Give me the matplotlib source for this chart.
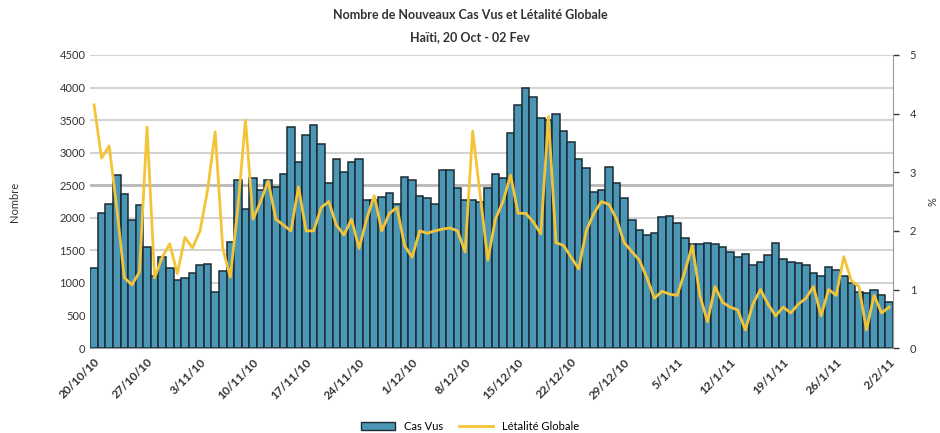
import matplotlib
matplotlib.use("Agg")
import matplotlib.pyplot as plt
import numpy as np
from matplotlib.patches import Patch
from matplotlib.lines import Line2D

plt.rcParams['font.family'] = ['Lato', 'DejaVu Sans']

# new cases seen per day, 20/10/10 -> 2/2/11
cas_vus = [1230, 2070, 2210, 2660, 2370, 1970, 2190, 1560, 1100, 1400,
           1230, 1050, 1080, 1150, 1270, 1290, 860, 1190, 1630, 2580,
           2140, 2610, 2420, 2580, 2480, 2680, 3400, 2850, 3270, 3430,
           3140, 2530, 2910, 2700, 2850, 2910, 2270, 2270, 2320, 2380,
           2220, 2630, 2580, 2330, 2300, 2220, 2730, 2730, 2460, 2270,
           2270, 2250, 2460, 2680, 2610, 3310, 3730, 4000, 3850, 3540,
           3500, 3600, 3340, 3160, 2910, 2760, 2390, 2420, 2780, 2530,
           2300, 1960, 1810, 1730, 1760, 2010, 2030, 1920, 1690, 1600,
           1600, 1620, 1600, 1550, 1480, 1400, 1450, 1270, 1320, 1430,
           1610, 1370, 1320, 1300, 1270, 1150, 1100, 1250, 1200, 1100,
           1000, 860, 840, 900, 810, 710]

# overall case fatality rate (%)
letalite = [4.15, 3.24, 3.45, 2.4, 1.2, 1.08, 1.3, 3.77, 1.2, 1.55,
            1.78, 1.27, 1.89, 1.71, 2.0, 2.7, 3.69, 1.7, 1.21, 2.41,
            3.89, 2.2, 2.5, 2.85, 2.2, 2.1, 2.0, 2.75, 2.0, 2.0,
            2.4, 2.5, 2.1, 1.93, 2.2, 1.7, 2.2, 2.6, 2.0, 2.3,
            2.4, 1.75, 1.55, 2.0, 1.96, 2.0, 2.03, 2.05, 2.0, 1.64,
            3.7, 2.6, 1.5, 2.2, 2.5, 2.95, 2.3, 2.3, 2.15, 1.95,
            3.95, 1.8, 1.75, 1.55, 1.35, 2.0, 2.3, 2.5, 2.45, 2.2,
            1.8, 1.65, 1.5, 1.2, 0.85, 0.97, 0.92, 0.9, 1.3, 1.75,
            0.9, 0.45, 1.05, 0.78, 0.7, 0.65, 0.31, 0.75, 1.0, 0.75,
            0.55, 0.7, 0.6, 0.75, 0.85, 1.05, 0.55, 1.0, 0.9, 1.56,
            1.15, 1.05, 0.31, 0.9, 0.6, 0.7]

tick_labels = ['20/10/10', '27/10/10', '3/11/10', '10/11/10', '17/11/10',
               '24/11/10', '1/12/10', '8/12/10', '15/12/10', '22/12/10',
               '29/12/10', '5/1/11', '12/1/11', '19/1/11', '26/1/11', '2/2/11']

x = np.arange(len(cas_vus))

fig = plt.figure(figsize=(9.4, 4.33), dpi=100)
ax = fig.add_axes([0.096, 0.196, 0.854, 0.677])
ax2 = ax.twinx()

# grid
for v in range(500, 5000, 500):
    ax.axhline(v, color='#b8b8b8' if v == 2500 else '#d3d3d3',
               lw=2.0 if v == 2500 else 1.5, zorder=0)

ax.bar(x, cas_vus, width=1.0, color='#4b96b5', edgecolor='#1b2a33',
       linewidth=1.1, zorder=2)
ax2.plot(x, letalite, color='#f4c438', lw=2.0, zorder=3)

ax.set_xlim(-0.5, len(cas_vus) - 0.5)
ax.set_ylim(0, 4500)
ax.set_yticks(range(0, 4501, 500))
ax2.set_ylim(0, 5)
ax2.set_yticks(range(0, 6))

ax.set_xticks(x[::7])
ax.set_xticklabels(tick_labels, rotation=45, ha='right', fontsize=8.5,
                   fontweight='bold', color='#333333',
                   rotation_mode='anchor')
ax.tick_params(axis='x', length=0, pad=6)
ax.tick_params(axis='y', length=0, labelsize=8, colors='#333333')
ax2.tick_params(axis='y', length=4, labelsize=8, colors='#333333',
                direction='out', width=1, pad=8)

for s in ['top', 'left']:
    ax.spines[s].set_visible(False)
    ax2.spines[s].set_visible(False)
ax.spines['right'].set_visible(False)
ax2.spines['bottom'].set_visible(False)
ax.spines['bottom'].set_color('#999999')
ax2.spines['right'].set_color('#999999')

ax.set_ylabel('Nombre', fontsize=8, color='#333333', labelpad=28)
ax2.set_ylabel('%', fontsize=8, color='#333333', rotation=90, labelpad=8)

ax.set_zorder(ax2.get_zorder() - 1)
ax2.patch.set_visible(False)
ax.patch.set_visible(False)

fig.text(0.5, 0.955, 'Nombre de Nouveaux Cas Vus et Létalité Globale',
         ha='center', fontsize=9, fontweight='bold', color='#333333')
fig.text(0.5, 0.905, 'Haïti, 20 Oct - 02 Fev',
         ha='center', fontsize=9, fontweight='bold', color='#333333')

handles = [Patch(facecolor='#4b96b5', edgecolor='#1b2a33'),
           Line2D([0], [0], color='#f4c438', lw=2)]
fig.legend(handles, ['Cas Vus', 'Létalité Globale'], loc='lower center',
           bbox_to_anchor=(0.5, -0.02), ncol=2, frameon=False, fontsize=8,
           handlelength=3, columnspacing=1.5)

fig.savefig('out.png', dpi=100)
